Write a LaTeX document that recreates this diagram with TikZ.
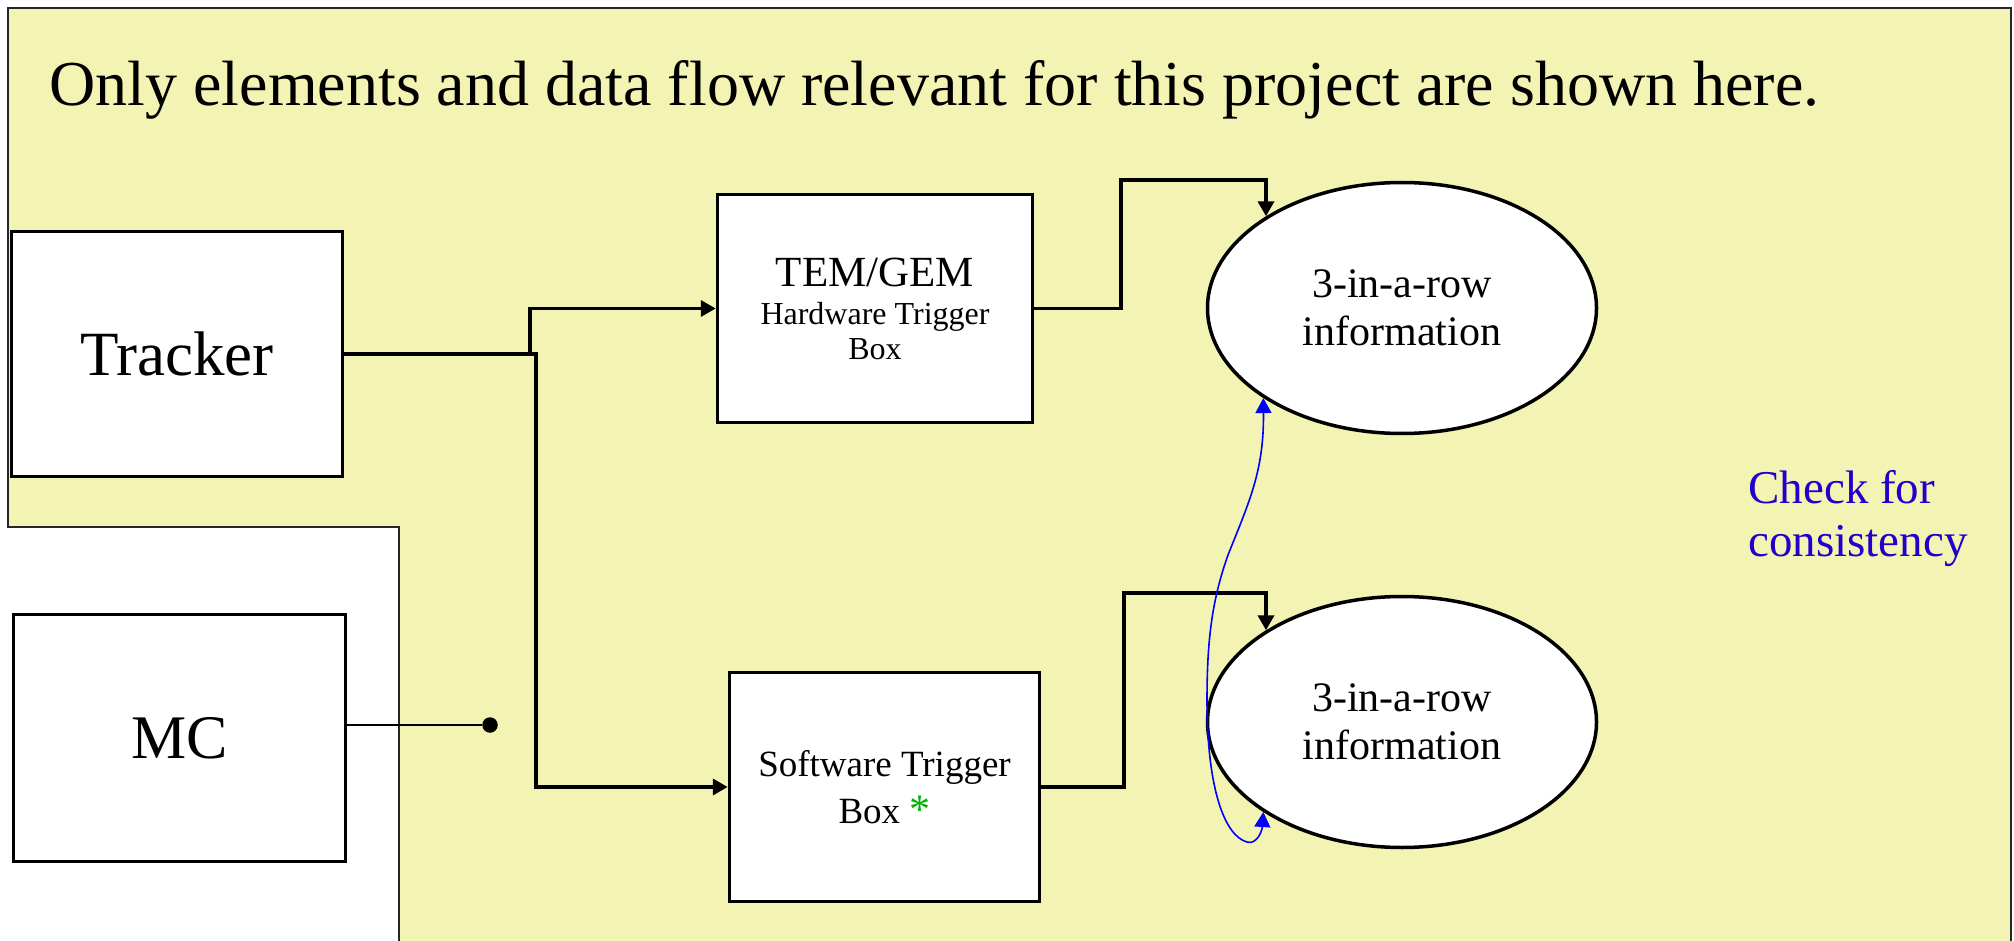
\documentclass[tikz,border=0pt]{standalone}
\usepackage{fontspec}
\setmainfont{Liberation Serif}
\usetikzlibrary{arrows.meta, shapes.geometric}
\definecolor{panel}{RGB}{243,244,179}
\definecolor{noteblue}{RGB}{34,0,204}
\definecolor{stargreen}{RGB}{0,176,0}

\begin{document}
\begin{tikzpicture}[x=0.5pt, y=-0.5pt,
  box/.style={draw=black, line width=1.75pt, fill=white, inner sep=0pt, align=center},
  info/.style={ellipse, draw=black, line width=1.75pt, fill=white,
    minimum width=194.5pt, minimum height=125.5pt, inner sep=0pt,
    align=center, font=\fontsize{21}{24}\selectfont},
  conn/.style={line width=1.75pt, -{Triangle[length=7.5pt,width=8pt]}},
  frame/.style={line width=0.75pt, draw=black!85},
  check/.style={draw=blue, line width=0.8pt,
    {Triangle[length=7.5pt,width=8pt]}-{Triangle[length=7.5pt,width=8pt]}}
]
\useasboundingbox (0,0) rectangle (2014,941);

% shaded panel with the lower-left cut-out
\fill[panel] (8,8) -- (2011,8) -- (2011,941) -- (399,941) -- (399,527) -- (8,527) -- cycle;
\draw[frame] (399,941) -- (399,527) -- (8,527) -- (8,8) -- (2011,8) -- (2011,941);

% heading
\node[anchor=base west, inner sep=0pt, font=\fontsize{32}{38}\selectfont] (title) at (49,106)
  {Only elements and data flow relevant for this project are shown here.};

% blocks
\node[box, minimum width=165.5pt, minimum height=122.5pt, font=\fontsize{31.5}{36}\selectfont]
  (tracker) at (177,354) {Tracker};
\node[box, minimum width=166pt, minimum height=123.5pt, font=\fontsize{31}{36}\selectfont]
  (mc) at (179.5,738) {MC};
\node[box, minimum width=157.5pt, minimum height=114pt, font=\fontsize{16}{17.5}\selectfont]
  (tem) at (875,308.5) {{\fontsize{21.5}{24}\selectfont TEM/GEM}\\[1.5pt]Hardware Trigger\\Box};
\node[box, minimum width=155pt, minimum height=114.5pt, font=\fontsize{18.5}{23.5}\selectfont]
  (sw) at (884.5,787) {Software Trigger\\Box {\color{stargreen}\fontsize{21}{23.5}\selectfont *}};

\node[info] (e1) at (1402,308) {3-in-a-row\\information};
\node[info] (e2) at (1402,722) {3-in-a-row\\information};

\node[anchor=west, align=left, inner sep=0pt, text=noteblue, font=\fontsize{23.5}{26.5}\selectfont]
  (note) at (1748,519) {Check for\\consistency};

% data flow
\coordinate (split) at (536,354);
\coordinate (splitup) at (530,354);
\draw[conn] (tracker.east) -- (split) |- (sw.west);
\draw[conn] (splitup) |- (tem.west);
\draw[conn] (tem.east) -| (1121,180) -| (e1.146.4);
\draw[conn] (sw.east) -| (1124,593) -| (e2.146.4);

% MC output stub
\node[circle, fill=black, minimum size=7.75pt, inner sep=0pt] (dot) at (490,725) {};
\draw[line width=0.7pt] (mc.east |- dot) -- (dot);

% consistency check between the two results
\draw[check] (e2.213.4) .. controls (1262,832) and (1256,845) .. (1247,842)
  .. controls (1225,836) and (1207,790) .. (1207,700)
  .. controls (1207,640) and (1212,600) .. (1228,555)
  .. controls (1250,500) and (1264,470) .. (e1.213.4);
\end{tikzpicture}
\end{document}
